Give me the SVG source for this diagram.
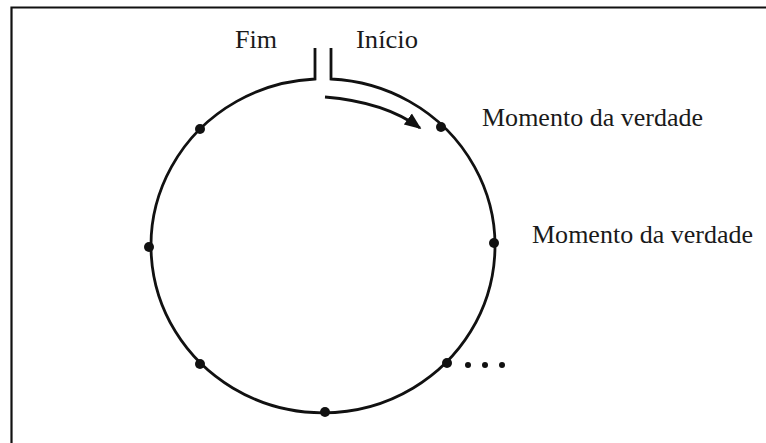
<svg xmlns="http://www.w3.org/2000/svg" width="766" height="443" viewBox="0 0 766 443">
<style>
.ln{fill:none;stroke:#111;stroke-width:2.8}
.dot{fill:#111}
.lbl{font-family:'Liberation Serif','Times New Roman',Times,serif;font-size:25px;fill:#1a1a1a}
</style>
<defs>
<marker id="ah" viewBox="0 0 10 10" refX="9" refY="5" markerWidth="6" markerHeight="6" orient="auto" markerUnits="strokeWidth">
<path d="M0,1 L10,5 L0,9 Z" fill="#111"/>
</marker>
</defs>
<rect width="766" height="443" fill="#fff"/>
<g id="frame">
<path d="M11.5,443 V7.5 H766" fill="none" stroke="#111" stroke-width="2.2"/>
</g>
<g id="cycle">
<path class="ln" d="M315,48 V79 A172,167 0 1 0 331,79 V48"/>
</g>
<g id="connectors">
<path d="M325,97 Q385,102 420,128" fill="none" stroke="#111" stroke-width="2.8" marker-end="url(#ah)"/>
</g>
<g id="moments">
<circle class="dot" cx="200" cy="129" r="5"/>
<circle class="dot" cx="441" cy="127" r="5"/>
<circle class="dot" cx="149" cy="247" r="5"/>
<circle class="dot" cx="494" cy="243" r="5"/>
<circle class="dot" cx="200" cy="364" r="5"/>
<circle class="dot" cx="447" cy="363" r="5"/>
<circle class="dot" cx="325" cy="412" r="5"/>
</g>
<g id="ellipsis">
<circle class="dot" cx="468" cy="365" r="3"/>
<circle class="dot" cx="485" cy="365" r="3"/>
<circle class="dot" cx="502" cy="365" r="3"/>
</g>
<g id="labels">
<text class="lbl" x="235" y="48" textLength="42" lengthAdjust="spacingAndGlyphs">Fim</text>
<text class="lbl" x="356" y="48" textLength="62" lengthAdjust="spacingAndGlyphs">Início</text>
<text class="lbl" x="482" y="126" textLength="221" lengthAdjust="spacingAndGlyphs">Momento da verdade</text>
<text class="lbl" x="532" y="243" textLength="221" lengthAdjust="spacingAndGlyphs">Momento da verdade</text>
</g>
</svg>
